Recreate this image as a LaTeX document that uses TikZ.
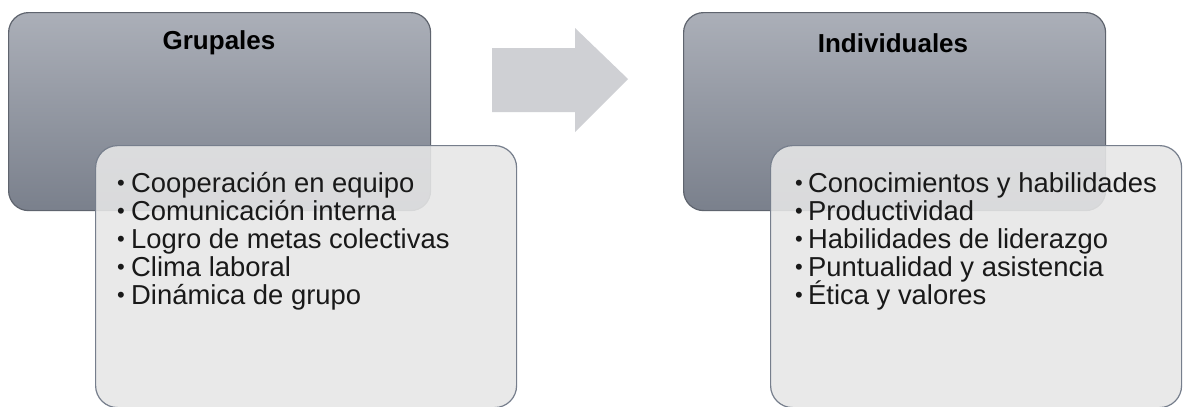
\documentclass[tikz,border=0pt]{standalone}
\usepackage{fontspec}
\setmainfont{Liberation Sans}
\begin{document}
\begin{tikzpicture}[x=1pt,y=-1pt,
  headbox/.style={draw=boxedge,line width=1.2pt,rounded corners=20pt,top color=boxtop,bottom color=boxbot},
  listbox/.style={draw=listedge,line width=1.2pt,rounded corners=22pt,fill=listfill,fill opacity=0.88},
  title/.style={font=\fontsize{26}{28}\selectfont\bfseries,text=black,inner sep=0pt},
  item/.style={font=\fontsize{27.4}{28}\selectfont,text=black!90,inner sep=0pt,anchor=base west},
  bul/.style={font=\fontsize{22}{24}\selectfont,text=black!90,inner sep=0pt,anchor=base west}]
\definecolor{boxtop}{RGB}{171,175,184}
\definecolor{boxbot}{RGB}{122,128,140}
\definecolor{boxedge}{RGB}{95,100,110}
\definecolor{listfill}{RGB}{231,231,231}
\definecolor{listedge}{RGB}{118,126,140}
\definecolor{arrowfill}{RGB}{207,208,212}
\useasboundingbox (0,0) rectangle (1184,407);
\fill[white] (0,0) rectangle (1184,407);
% left group
\node[headbox,minimum width=422pt,minimum height=198pt,anchor=north west] (gtop) at (8,12) {};
\node[title] (gtitle) at (219,43) {Grupales};
\node[listbox,minimum width=421pt,minimum height=262pt,anchor=north west] (glist) at (95,145) {};
% arrow
\path[fill=arrowfill] (492,48) -- (575,48) -- (575,28) -- (628,79) -- (575,132) -- (575,112) -- (492,112) -- cycle;
\node[inner sep=0pt,minimum size=1pt] (arr) at (560,80) {};
% right group
\node[headbox,minimum width=422pt,minimum height=198pt,anchor=north west] (itop) at (683,12) {};
\node[title] (ititle) at (893,43) {Individuales};
\node[listbox,minimum width=411pt,minimum height=262pt,anchor=north west] (ilist) at (770,145) {};
% left items
\foreach \t [count=\i] in {Cooperación en equipo,Comunicación interna,Logro de metas colectivas,Clima laboral,Dinámica de grupo}{
  \node[bul] (gb\i) at (117,{190+(\i-1)*28}) {•};
  \node[item] (gi\i) at (131,{192+(\i-1)*28}) {\t};
}
% right items
\foreach \t [count=\i] in {Conocimientos y habilidades,Productividad,Habilidades de liderazgo,Puntualidad y asistencia,Ética y valores}{
  \node[bul] (ib\i) at (795,{190+(\i-1)*28}) {•};
  \node[item] (ii\i) at (808,{192+(\i-1)*28}) {\t};
}
\end{tikzpicture}
\end{document}
